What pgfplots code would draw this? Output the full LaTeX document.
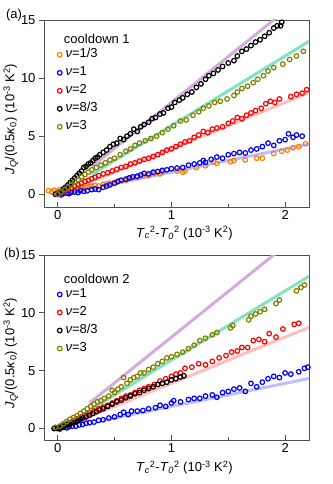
\documentclass[border=0pt]{standalone}
\usepackage{fontspec}
\setmainfont{Liberation Sans}
\usepackage{pgfplots}
\pgfplotsset{compat=1.18}

\definecolor{corange}{RGB}{255,128,0}
\definecolor{cblue}{RGB}{0,0,255}
\definecolor{cred}{RGB}{255,0,0}
\definecolor{colive}{RGB}{128,128,0}
\definecolor{lpurple}{RGB}{212,172,220}
\definecolor{lgreen}{RGB}{130,228,190}
\definecolor{lpink}{RGB}{255,190,190}
\definecolor{lblue}{RGB}{190,190,255}
\definecolor{frame}{RGB}{80,80,80}

\newcommand{\fnt}{\fontsize{13}{15}\selectfont}

\pgfplotsset{
  jq/.style={
    scale only axis, width=265pt,
    xmin=-0.12, xmax=2.21, ymin=-1.1, ymax=15,
    xtick={0,1,2}, minor xtick={0.5,1.5}, ytick={0,5,10,15},
    xtick pos=bottom, ytick pos=left,
    xtick align=inside, ytick align=outside,
    major tick length=5pt, minor tick length=3pt,
    axis line style={frame, line width=0.8pt},
    every tick/.style={frame, line width=0.8pt},
    tick label style={font=\fnt},
    label style={font=\fnt},
    /pgf/number format/assume math mode=true,
    xlabel={\textit{T}\textsubscript{\textit{c}}\textsuperscript{2}-\textit{T}\textsubscript{\textit{0}}\textsuperscript{2} (10\textsuperscript{-3} K\textsuperscript{2})},
    ylabel={\textit{J}\textsubscript{\textit{Q}}/(0.5\textit{κ}\textsubscript{0}) (10\textsuperscript{-3} K\textsuperscript{2})},
    xlabel style={at={(axis description cs:0.53,-0.14)}, anchor=center},
    ylabel style={at={(axis description cs:-0.125,0.47)}, anchor=center},
    legend cell align=left,
    legend style={draw=none, fill=none, font=\fnt, inner sep=0pt, row sep=3pt,
      nodes={text height=9.5pt, text depth=3.5pt, inner sep=1pt},
      /tikz/every odd column/.append style={column sep=2.5pt}},
    legend image code/.code={\draw[mark repeat=2,mark phase=2] plot coordinates {(0pt,0pt) (4pt,0pt) (8pt,0pt)};},
    fitline/.style={line width=3pt, no marks},
    pts/.style={only marks, mark=o, mark size=2.3pt, mark options={line width=1.2pt}},
  }
}

\begin{document}
\begin{tikzpicture}
\path[use as bounding box] (-44pt,20pt) rectangle (288pt,-464pt);

% ---------------- (a) cooldown 1
\begin{axis}[jq, name=a, height=187pt, at={(0,0)}, anchor=north west,
  legend style={at={(rel axis cs:0.05,0.855)}, anchor=north west}]
\addplot[fitline, lpurple, forget plot] coordinates {(0.3,2.37) (1.97,15.56)};
\addplot[fitline, lgreen, forget plot] coordinates {(0.3,1.7) (2.25,13.4)};
\addplot[fitline, lpink, forget plot] coordinates {(0.15,0.5) (2.25,8.9)};
\addplot[fitline, lblue, forget plot] coordinates {(0.4,0.7) (2.25,4.4)};

\addplot[pts, corange] coordinates {
(-0.08,0.3) (-0.05,0.2) (-0.03,0.35) (0.0,0.25) (0.02,0.4) (0.05,0.3) (0.08,0.45) (0.1,0.3)
(0.12,0.5) (0.15,0.4) (0.18,0.55) (0.2,0.45) (0.23,0.5) (0.25,0.6) (0.28,0.65) (0.3,0.7)
(0.33,0.75) (0.36,0.7) (0.4,0.85) (0.43,0.9) (0.46,0.95) (0.5,1.0) (0.52,1.05) (0.55,1.2)
(0.6,1.2) (0.62,1.35) (0.65,1.4) (0.7,1.45) (0.75,1.6) (0.8,1.6) (0.85,1.8) (0.9,1.75)
(0.92,1.9) (1.05,2.0) (1.1,1.9) (1.12,2.0) (1.22,2.3) (1.3,2.45) (1.37,2.8) (1.4,2.65)
(1.52,2.8) (1.55,2.9) (1.65,2.95) (1.75,3.1) (1.8,3.1) (1.9,3.5) (1.97,3.7) (2.02,3.8)
(2.07,4.0) (2.12,4.1) (2.18,4.35)};
\addlegendentry{\textit{ν}=1/3}

\addplot[pts, cblue] coordinates {
(0.0,0.0) (0.03,-0.05) (0.05,0.05) (0.08,0.1) (0.1,0.05) (0.12,0.15) (0.15,0.2) (0.18,0.15)
(0.2,0.3) (0.23,0.25) (0.26,0.3) (0.3,0.4) (0.33,0.45) (0.36,0.4) (0.4,0.6) (0.43,0.7)
(0.46,0.8) (0.5,0.95) (0.53,1.1) (0.56,1.2) (0.6,1.3) (0.63,1.4) (0.66,1.5) (0.7,1.55)
(0.73,1.65) (0.76,1.8) (0.8,1.75) (0.84,1.9) (0.88,1.95) (0.92,2.05) (0.96,2.1) (1.0,2.2)
(1.05,2.25) (1.1,2.3) (1.15,2.5) (1.2,2.6) (1.25,2.7) (1.28,2.9) (1.3,2.75) (1.35,3.0)
(1.4,3.2) (1.45,3.1) (1.5,3.4) (1.55,3.5) (1.6,3.6) (1.65,3.55) (1.7,3.8) (1.75,3.9)
(1.8,4.1) (1.85,4.4) (1.9,4.2) (1.95,4.6) (2.0,4.7) (2.03,5.2) (2.07,4.9) (2.1,5.1) (2.15,5.0)};
\addlegendentry{\textit{ν}=1}

\addplot[pts, cred] coordinates {
(0.0,0.0) (0.03,0.1) (0.06,0.25) (0.09,0.4) (0.12,0.55) (0.15,0.7) (0.18,0.8) (0.21,0.95)
(0.24,1.1) (0.27,1.2) (0.30,1.35) (0.33,1.45) (0.36,1.6) (0.40,1.75) (0.44,1.85) (0.48,2.0)
(0.52,2.15) (0.56,2.3) (0.60,2.4) (0.64,2.6) (0.68,2.7) (0.72,2.85) (0.76,3.0) (0.80,3.1)
(0.84,3.25) (0.88,3.4) (0.92,3.6) (0.96,3.8) (1.00,3.9) (1.04,4.1) (1.08,4.3) (1.12,4.5)
(1.16,4.6) (1.20,4.9) (1.24,5.1) (1.28,5.4) (1.32,5.3) (1.36,5.6) (1.40,5.7) (1.45,5.8)
(1.50,6.1) (1.54,6.3) (1.58,6.6) (1.62,6.5) (1.66,6.8) (1.70,7.0) (1.74,7.2) (1.79,7.4)
(1.83,7.8) (1.87,8.0) (1.91,7.9) (1.95,8.2) (2.05,8.4) (2.10,8.6) (2.15,8.7) (2.19,9.0)};
\addlegendentry{\textit{ν}=2}

\addplot[pts, black] coordinates {
(-0.02,0.0) (0.01,0.1) (0.03,0.2) (0.05,0.45) (0.07,0.6) (0.09,0.8) (0.11,1.0) (0.13,1.2)
(0.15,1.4) (0.17,1.6) (0.19,1.8) (0.21,2.0) (0.23,2.3) (0.25,2.4) (0.27,2.6) (0.29,2.7)
(0.31,2.9) (0.33,3.1) (0.35,3.2) (0.37,3.4) (0.40,3.6) (0.43,3.8) (0.46,4.1) (0.49,4.3)
(0.52,4.4) (0.55,4.8) (0.58,4.7) (0.61,5.0) (0.64,5.2) (0.67,5.6) (0.70,5.4) (0.73,5.8)
(0.76,6.0) (0.80,6.2) (0.83,6.5) (0.86,6.6) (0.90,6.9) (0.93,7.0) (0.97,7.4) (1.00,7.5)
(1.03,7.9) (1.07,8.1) (1.10,8.3) (1.14,8.6) (1.18,8.8) (1.22,9.2) (1.26,9.5) (1.30,9.9)
(1.33,10.2) (1.37,10.4) (1.41,10.7) (1.45,11.0) (1.50,11.3) (1.55,11.5) (1.58,11.9) (1.62,12.3)
(1.66,12.5) (1.70,12.8) (1.74,13.1) (1.78,13.3) (1.82,13.6) (1.86,13.9) (1.90,14.3) (1.93,14.5)
(1.97,14.8) (1.96,14.5)};
\addlegendentry{\textit{ν}=8/3}

\addplot[pts, colive] coordinates {
(0.0,0.0) (0.03,0.2) (0.06,0.4) (0.09,0.6) (0.12,0.8) (0.15,1.05) (0.18,1.25) (0.21,1.5)
(0.24,1.7) (0.27,1.9) (0.30,2.1) (0.34,2.3) (0.38,2.5) (0.42,2.7) (0.46,2.95) (0.50,3.1)
(0.55,3.4) (0.60,3.7) (0.64,3.9) (0.68,4.2) (0.72,4.4) (0.77,4.6) (0.82,4.8) (0.87,5.0)
(0.92,5.3) (0.97,5.6) (1.02,5.9) (1.08,6.3) (1.13,6.4) (1.19,6.8) (1.24,7.1) (1.28,7.4)
(1.33,7.6) (1.38,7.9) (1.43,8.0) (1.49,8.2) (1.55,8.5) (1.58,8.8) (1.62,9.1) (1.67,9.3)
(1.72,9.6) (1.76,9.9) (1.81,10.2) (1.85,10.6) (1.90,10.9) (1.98,11.2) (2.04,11.6) (2.10,11.9)
(2.16,12.3)};
\addlegendentry{\textit{ν}=3}

\node[font=\fnt, anchor=west] at (rel axis cs:0.062,0.898) {cooldown 1};
\end{axis}
\node[font=\fnt] at ([shift={(-30pt,5pt)}]a.north west) {(a)};

% ---------------- (b) cooldown 2
\begin{axis}[jq, name=b, height=185pt, ymin=-1.0, at={(0,-235pt)}, anchor=north west,
  xlabel style={at={(axis description cs:0.53,-0.15)}},
  legend style={at={(rel axis cs:0.05,0.828)}, anchor=north west}]
\addplot[fitline, lpurple, forget plot] coordinates {(0.28,2.2) (1.97,15.56)};
\addplot[fitline, lgreen, forget plot] coordinates {(0.3,1.7) (2.25,13.4)};
\addplot[fitline, lpink, forget plot] coordinates {(0.15,0.5) (2.25,8.9)};
\addplot[fitline, lblue, forget plot] coordinates {(0.4,0.7) (2.25,4.4)};

\addplot[pts, cblue] coordinates {
(-0.03,0.0) (0.0,0.05) (0.02,-0.05) (0.05,0.1) (0.08,0.05) (0.1,0.15) (0.13,0.2) (0.16,0.2)
(0.19,0.3) (0.22,0.35) (0.25,0.45) (0.28,0.5) (0.32,0.55) (0.36,0.7) (0.40,0.75) (0.45,0.9)
(0.50,1.0) (0.55,1.2) (0.58,1.4) (0.62,1.2) (0.65,1.5) (0.70,1.5) (0.75,1.55) (0.80,1.7)
(0.86,1.8) (0.90,2.0) (0.95,1.9) (1.00,2.2) (1.02,2.4) (1.08,2.3) (1.15,2.5) (1.20,2.6)
(1.25,2.6) (1.30,2.8) (1.36,2.9) (1.40,2.7) (1.45,3.1) (1.50,3.2) (1.55,3.4) (1.60,3.5)
(1.65,3.2) (1.70,3.9) (1.75,3.6) (1.80,4.0) (1.85,4.3) (1.90,4.5) (1.95,4.4) (2.00,4.8)
(2.05,4.7) (2.12,4.9) (2.17,5.2) (2.20,5.3)};
\addlegendentry{\textit{ν}=1}

\addplot[pts, cred] coordinates {
(0.0,0.0) (0.03,0.15) (0.06,0.3) (0.09,0.45) (0.12,0.55) (0.15,0.7) (0.18,0.85) (0.21,1.0)
(0.24,1.15) (0.28,1.35) (0.32,1.5) (0.36,1.7) (0.40,1.85) (0.44,2.0) (0.48,2.2) (0.52,2.4)
(0.56,2.6) (0.60,2.8) (0.64,2.9) (0.68,3.1) (0.72,3.3) (0.76,3.45) (0.80,3.6) (0.85,3.8)
(0.90,4.1) (0.95,4.3) (1.00,4.5) (1.04,4.7) (1.08,4.8) (1.12,5.2) (1.18,5.3) (1.24,5.6)
(1.30,5.5) (1.36,5.8) (1.42,6.1) (1.48,6.3) (1.53,6.6) (1.58,6.7) (1.62,7.0) (1.67,7.0)
(1.72,7.6) (1.77,7.7) (1.82,7.5) (1.86,8.2) (1.92,7.9) (1.98,8.6) (2.08,9.0) (2.12,9.1)};
\addlegendentry{\textit{ν}=2}

\addplot[pts, black] coordinates {
(-0.03,0.0) (0.0,0.0) (0.02,0.05) (0.04,0.1) (0.06,0.2) (0.08,0.3) (0.10,0.35) (0.12,0.45)
(0.14,0.55) (0.16,0.6) (0.18,0.7) (0.20,0.8) (0.22,0.9) (0.25,1.0) (0.28,1.15) (0.31,1.3)
(0.34,1.45) (0.37,1.6) (0.40,1.7) (0.44,1.9) (0.48,2.1) (0.52,2.3) (0.56,2.45) (0.60,2.65)
(0.64,2.8) (0.68,3.0) (0.72,3.1) (0.76,3.3) (0.80,3.45) (0.84,3.6) (0.88,3.8) (0.92,3.9)
(0.96,4.0) (1.00,4.2) (1.04,4.3) (1.08,4.45) (1.11,4.55)};
\addlegendentry{\textit{ν}=8/3}

\addplot[pts, colive] coordinates {
(-0.02,0.1) (0.02,0.2) (0.05,0.4) (0.08,0.6) (0.11,0.8) (0.14,0.95) (0.17,1.1) (0.20,1.3)
(0.23,1.5) (0.26,1.7) (0.29,1.9) (0.32,2.1) (0.35,2.3) (0.38,2.4) (0.41,2.6) (0.45,2.8)
(0.48,3.3) (0.50,3.1) (0.53,3.4) (0.56,3.6) (0.58,4.4) (0.61,3.9) (0.64,4.2) (0.67,4.4)
(0.70,4.5) (0.73,4.8) (0.76,4.8) (0.80,5.1) (0.84,5.3) (0.88,5.6) (0.92,5.8) (0.96,6.1)
(1.00,6.2) (1.05,6.4) (1.10,6.6) (1.15,6.9) (1.20,7.2) (1.25,7.6) (1.30,7.8) (1.36,8.1)
(1.40,8.3) (1.52,8.7) (1.54,8.9) (1.68,9.4) (1.70,9.7) (1.74,9.9) (1.78,10.1) (1.82,10.3)
(1.92,10.8) (1.95,11.1) (2.10,11.9) (2.14,12.2) (2.17,12.4)};
\addlegendentry{\textit{ν}=3}

\node[font=\fnt, anchor=west] at (rel axis cs:0.062,0.87) {cooldown 2};
\end{axis}
\node[font=\fnt] at ([shift={(-32pt,1pt)}]b.north west) {(b)};
\end{tikzpicture}
\end{document}
